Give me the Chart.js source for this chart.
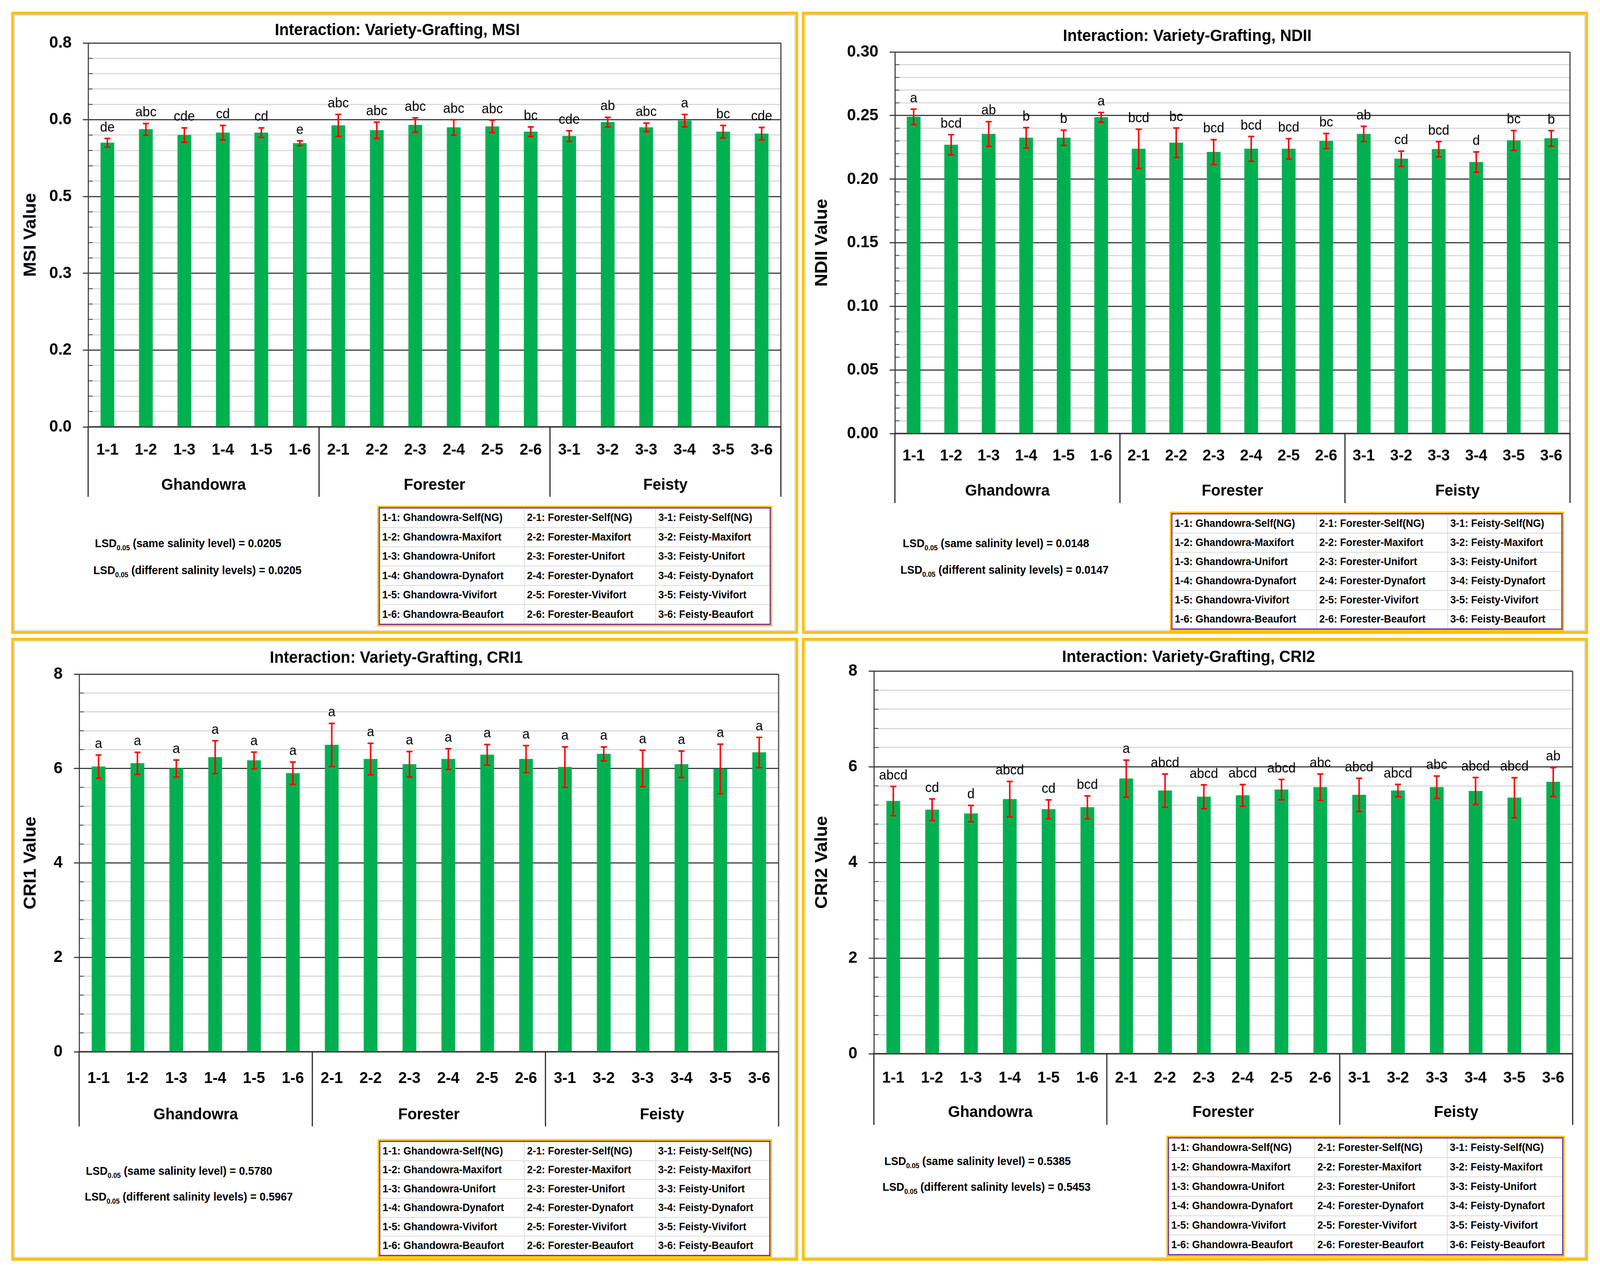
<!DOCTYPE html>
<html>
<head>
<meta charset="utf-8">
<script src="https://cdn.jsdelivr.net/npm/chart.js@4.4.0/dist/chart.umd.min.js"></script>
<style>
  html, body { margin: 0; padding: 0; background: #fff; overflow: hidden; height: 100%; }
  #wrap { position: relative; width: 100vw; height: 100vh; overflow: hidden; background: #fff; }
  #page { position: absolute; left: 0; top: 0; width: 4266px; height: 3262px; background: #fff;
          font-family: 'Liberation Sans', Arial, sans-serif; color: #000; transform-origin: 0 0; }
  .panel { position: absolute; box-sizing: border-box; border: 7px solid #FFC000;
           box-shadow: inset 0 0 0 3px #dcdcdc; }
  .box { position: absolute; }
  .lsd { position: absolute; font-weight: bold; font-size: 29px; line-height: 29px; white-space: nowrap; }
  .lsd sub { font-size: 18px; line-height: 0; vertical-align: -8px; }
  .key { position: absolute; box-sizing: border-box; border: 4px solid #FFC000; }
  .key table { width: 100%; height: 100%; border-collapse: collapse; table-layout: fixed;
               border: 3px solid #7030A0; box-sizing: border-box; }
  .key td { border: 2px solid #d9d9d9; font-weight: bold; font-size: 27px; padding: 0 0 0 6px;
            white-space: nowrap; overflow: hidden; }
</style>
</head>
<body>
<div id="wrap"><div id="page"></div></div>
<script>
// ---- data ----
var codes = ['1-1','1-2','1-3','1-4','1-5','1-6','2-1','2-2','2-3','2-4','2-5','2-6','3-1','3-2','3-3','3-4','3-5','3-6'];
var groups = ['Ghandowra', 'Forester', 'Feisty'];
var grafts = ['Self(NG)', 'Maxifort', 'Unifort', 'Dynafort', 'Vivifort', 'Beaufort'];

var msiMean = [0.592, 0.620, 0.608, 0.613, 0.613, 0.591, 0.628, 0.618, 0.629, 0.624, 0.626, 0.615, 0.606, 0.635, 0.624, 0.638, 0.615, 0.611];
var msiErr  = [0.009, 0.012, 0.015, 0.015, 0.010, 0.005, 0.023, 0.017, 0.015, 0.016, 0.013, 0.010, 0.011, 0.010, 0.009, 0.013, 0.013, 0.013];
var msiLetters = ['de','abc','cde','cd','cd','e','abc','abc','abc','abc','abc','bc','cde','ab','abc','a','bc','cde'];

var ndiiMean = [0.249, 0.227, 0.2355, 0.2325, 0.2325, 0.2486, 0.2238, 0.2286, 0.2213, 0.2238, 0.2238, 0.230, 0.2355, 0.216, 0.2235, 0.2134, 0.2304, 0.232];
var ndiiErr  = [0.006, 0.008, 0.0097, 0.008, 0.006, 0.0038, 0.0154, 0.0116, 0.0098, 0.0097, 0.008, 0.0059, 0.006, 0.006, 0.006, 0.008, 0.0078, 0.0061];
var ndiiLetters = ['a','bcd','ab','b','b','a','bcd','bc','bcd','bcd','bcd','bc','ab','cd','bcd','d','bc','b'];

var cri1Mean = [6.04, 6.11, 6.00, 6.24, 6.17, 5.90, 6.50, 6.20, 6.09, 6.20, 6.29, 6.20, 6.03, 6.31, 6.00, 6.09, 5.99, 6.34];
var cri1Err  = [0.245, 0.234, 0.18, 0.347, 0.177, 0.236, 0.456, 0.334, 0.27, 0.22, 0.218, 0.286, 0.43, 0.148, 0.386, 0.28, 0.526, 0.32];
var cri1Letters = ['a','a','a','a','a','a','a','a','a','a','a','a','a','a','a','a','a','a'];

var cri2Mean = [5.28, 5.10, 5.02, 5.32, 5.11, 5.15, 5.75, 5.50, 5.37, 5.40, 5.52, 5.57, 5.41, 5.50, 5.57, 5.49, 5.35, 5.68];
var cri2Err  = [0.305, 0.226, 0.17, 0.372, 0.197, 0.24, 0.387, 0.347, 0.25, 0.226, 0.213, 0.276, 0.347, 0.128, 0.234, 0.283, 0.42, 0.30];
var cri2Letters = ['abcd','cd','d','abcd','cd','bcd','a','abcd','abcd','abcd','abcd','abc','abcd','abcd','abc','abcd','abcd','ab'];

var lsdSame = ['0.0205', '0.0148', '0.5780', '0.5385'];
var lsdDiff = ['0.0205', '0.0147', '0.5967', '0.5453'];

// ---- which data goes in which panel ----
var panels = [
  { title: 'Interaction: Variety-Grafting, MSI',  yTitle: 'MSI Value',  mean: msiMean,  err: msiErr,  letters: msiLetters,  yMax: 0.8, minor: 0.032, major: 0.16, dec: 1 },
  { title: 'Interaction: Variety-Grafting, NDII', yTitle: 'NDII Value', mean: ndiiMean, err: ndiiErr, letters: ndiiLetters, yMax: 0.3, minor: 0.01,  major: 0.05, dec: 2 },
  { title: 'Interaction: Variety-Grafting, CRI1', yTitle: 'CRI1 Value', mean: cri1Mean, err: cri1Err, letters: cri1Letters, yMax: 8,   minor: 0.4,   major: 2,    dec: 0 },
  { title: 'Interaction: Variety-Grafting, CRI2', yTitle: 'CRI2 Value', mean: cri2Mean, err: cri2Err, letters: cri2Letters, yMax: 8,   minor: 0.4,   major: 2,    dec: 0 }
];

// ---- page layout (page pixels) ----
var layouts = [
  { box: [30, 30, 2098, 1593],   cv: [37, 37, 2084, 1253],   L: 235,  T: 110,  R: 2082, B: 1093, titleY: 78,   yTitleX: 82,   xLabY: 1153, groupY: 1243, sepY: 1272, lsd: [[253, 1392], [249, 1461]],   key: [1006, 1295, 1053, 309] },
  { box: [2138, 30, 2096, 1593], cv: [2145, 37, 2082, 1263], L: 2386, T: 133,  R: 4186, B: 1110, titleY: 93,   yTitleX: 2192, xLabY: 1168, groupY: 1258, sepY: 1288, lsd: [[2407, 1392], [2401, 1460]], key: [3119, 1310, 1051, 306] },
  { box: [30, 1633, 2098, 1595], cv: [37, 1640, 2084, 1260], L: 211,  T: 1726, R: 2076, B: 2693, titleY: 1685, yTitleX: 82,   xLabY: 2762, groupY: 2855, sepY: 2884, lsd: [[229, 2999], [226, 3065]],   key: [1007, 2917, 1051, 303] },
  { box: [2138, 1633, 2096, 1595], cv: [2145, 1640, 2082, 1255], L: 2330, T: 1718, R: 4193, B: 2698, titleY: 1683, yTitleX: 2192, xLabY: 2761, groupY: 2849, sepY: 2880, lsd: [[2358, 2974], [2353, 3040]], key: [3110, 2908, 1062, 310] }
];

var FONT = "'Liberation Sans', Arial, sans-serif";
var page = document.getElementById('page');

// fit the 4266x3262 page into whatever the viewport really is
var fitX = window.innerWidth / 4266, fitY = window.innerHeight / 3262;
page.style.transform = 'scale(' + fitX + ',' + fitY + ')';
var dpr = Math.max(fitX, fitY) * (window.devicePixelRatio || 1);

function isMajor(v, step) {
  var r = v / step;
  return Math.abs(r - Math.round(r)) < 1e-6;
}

function place(el, x, y, w, h) {
  el.style.left = x + 'px';
  el.style.top = y + 'px';
  if (w != null) el.style.width = w + 'px';
  if (h != null) el.style.height = h + 'px';
}

function makeExtras(p, lay) {
  return {
    id: 'extras',
    afterDatasetsDraw: function (chart) {
      var ctx = chart.ctx, ys = chart.scales.y;
      var meta = chart.getDatasetMeta(0);
      ctx.save();
      ctx.strokeStyle = '#ff0000';
      ctx.lineWidth = 4;
      meta.data.forEach(function (bar, i) {
        var hi = ys.getPixelForValue(p.mean[i] + p.err[i]);
        var lo = ys.getPixelForValue(p.mean[i] - p.err[i]);
        ctx.beginPath();
        ctx.moveTo(bar.x, hi); ctx.lineTo(bar.x, lo);
        ctx.moveTo(bar.x - 8, hi); ctx.lineTo(bar.x + 8, hi);
        ctx.moveTo(bar.x - 8, lo); ctx.lineTo(bar.x + 8, lo);
        ctx.stroke();
      });
      ctx.fillStyle = '#000';
      ctx.font = '35px ' + FONT;
      ctx.textAlign = 'center';
      ctx.textBaseline = 'alphabetic';
      meta.data.forEach(function (bar, i) {
        ctx.fillText(p.letters[i], bar.x, ys.getPixelForValue(p.mean[i] + p.err[i]) - 18);
      });
      ctx.restore();
    },
    afterDraw: function (chart) {
      var ctx = chart.ctx, a = chart.chartArea, xs = chart.scales.x, ys = chart.scales.y;
      ctx.save();
      // right side of the plot box
      ctx.strokeStyle = '#404040';
      ctx.lineWidth = 3;
      ctx.beginPath();
      ctx.moveTo(a.right, a.top); ctx.lineTo(a.right, a.bottom);
      ctx.stroke();
      // small inner ticks for the minor steps
      ctx.lineWidth = 2;
      ys.ticks.forEach(function (t) {
        if (isMajor(t.value, p.major)) return;
        var y = ys.getPixelForValue(t.value);
        ctx.beginPath();
        ctx.moveTo(a.left, y); ctx.lineTo(a.left + 12, y);
        ctx.stroke();
      });
      // group separators and names
      var per = codes.length / groups.length;
      var edges = [xs.left];
      for (var g = 1; g < groups.length; g++) {
        edges.push((xs.getPixelForValue(g * per - 1) + xs.getPixelForValue(g * per)) / 2);
      }
      edges.push(xs.right);
      ctx.strokeStyle = '#222';
      ctx.lineWidth = 3;
      edges.forEach(function (x) {
        ctx.beginPath();
        ctx.moveTo(x, a.bottom); ctx.lineTo(x, a.bottom + (lay.sepY - lay.B));
        ctx.stroke();
      });
      ctx.fillStyle = '#000';
      ctx.font = 'bold 41px ' + FONT;
      ctx.textAlign = 'center';
      ctx.textBaseline = 'middle';
      groups.forEach(function (name, k) {
        ctx.fillText(name, (edges[k] + edges[k + 1]) / 2, a.bottom + (lay.groupY - lay.B));
      });
      ctx.restore();
    }
  };
}

function buildPanel(p, lay, idx) {
  var frame = document.createElement('div');
  frame.className = 'panel';
  place(frame, lay.box[0], lay.box[1], lay.box[2], lay.box[3]);
  page.appendChild(frame);

  var holder = document.createElement('div');
  holder.className = 'box';
  place(holder, lay.cv[0], lay.cv[1], lay.cv[2], lay.cv[3]);
  var canvas = document.createElement('canvas');
  holder.appendChild(canvas);
  page.appendChild(holder);

  var cvLeft = lay.cv[0], cvTop = lay.cv[1], cvRight = lay.cv[0] + lay.cv[2], cvBottom = lay.cv[1] + lay.cv[3];
  var titleLH = 42 * 1.2, yTitleLH = 46 * 1.2, xLabLH = 41 * 1.2;

  new Chart(canvas.getContext('2d'), {
    type: 'bar',
    data: {
      labels: codes,
      datasets: [{
        data: p.mean,
        backgroundColor: '#00B050',
        borderWidth: 0,
        barThickness: 36
      }]
    },
    options: {
      responsive: true,
      maintainAspectRatio: false,
      animation: false,
      devicePixelRatio: dpr,
      layout: { padding: { left: 0, top: 0, right: cvRight - lay.R, bottom: 0 } },
      plugins: {
        legend: { display: false },
        tooltip: { enabled: false },
        title: {
          display: true,
          text: p.title,
          color: '#000',
          font: { family: FONT, size: 42, weight: 'bold' },
          padding: { top: lay.titleY - cvTop - titleLH / 2, bottom: lay.T - lay.titleY - titleLH / 2 }
        }
      },
      scales: {
        x: {
          grid: { display: false, drawTicks: false },
          border: { display: true, color: '#404040', width: 4 },
          ticks: {
            color: '#000',
            font: { family: FONT, size: 41, weight: 'bold' },
            padding: lay.xLabY - lay.B - xLabLH / 2,
            autoSkip: false,
            maxRotation: 0
          },
          afterFit: function (s) { s.height = cvBottom - lay.B; }
        },
        y: {
          min: 0,
          max: p.yMax,
          grid: {
            color: function (c) { return isMajor(c.tick.value, p.major) ? '#404040' : '#d9d9d9'; },
            tickColor: function (c) { return isMajor(c.tick.value, p.major) ? '#404040' : 'rgba(0,0,0,0)'; },
            lineWidth: 3,
            tickLength: 14
          },
          border: { display: true, color: '#404040', width: 3 },
          ticks: {
            stepSize: p.minor,
            maxTicksLimit: 100,
            autoSkip: false,
            padding: 30,
            color: '#000',
            font: { family: FONT, size: 43, weight: 'bold' },
            callback: function (v) { return isMajor(v, p.major) ? Number(v).toFixed(p.dec) : ''; }
          },
          title: {
            display: true,
            text: p.yTitle,
            color: '#000',
            font: { family: FONT, size: 46, weight: 'bold' },
            padding: { top: lay.yTitleX - cvLeft - yTitleLH / 2, bottom: 0 }
          },
          afterFit: function (s) { s.width = lay.L - cvLeft; }
        }
      }
    },
    plugins: [makeExtras(p, lay)]
  });

  // LSD notes
  [lsdSame[idx], lsdDiff[idx]].forEach(function (val, k) {
    var d = document.createElement('div');
    d.className = 'lsd';
    d.innerHTML = 'LSD<sub>0.05</sub> (' + (k === 0 ? 'same salinity level' : 'different salinity levels') + ') = ' + val;
    place(d, lay.lsd[k][0], lay.lsd[k][1] - 15);
    page.appendChild(d);
  });

  // code key table
  var key = document.createElement('div');
  key.className = 'key';
  place(key, lay.key[0], lay.key[1], lay.key[2], lay.key[3]);
  var tbl = document.createElement('table');
  var cg = document.createElement('colgroup');
  ['37.1%', '33.6%', '29.3%'].forEach(function (w) {
    var col = document.createElement('col');
    col.style.width = w;
    cg.appendChild(col);
  });
  tbl.appendChild(cg);
  for (var r = 0; r < grafts.length; r++) {
    var tr = tbl.insertRow();
    for (var c = 0; c < groups.length; c++) {
      var td = tr.insertCell();
      td.textContent = (c + 1) + '-' + (r + 1) + ': ' + groups[c] + '-' + grafts[r];
    }
  }
  key.appendChild(tbl);
  page.appendChild(key);
}

panels.forEach(function (p, i) { buildPanel(p, layouts[i], i); });
</script>
</body>
</html>
